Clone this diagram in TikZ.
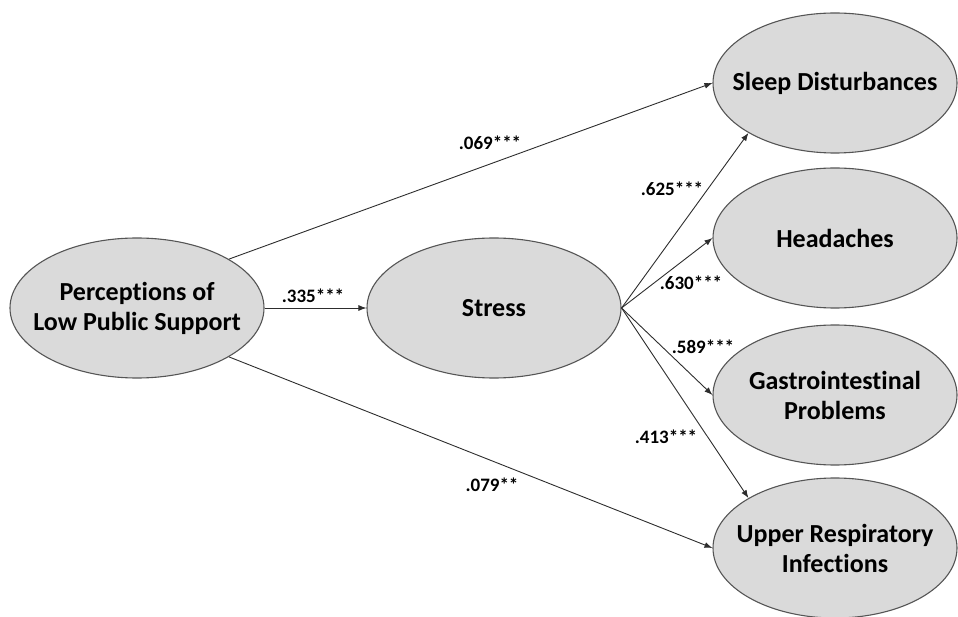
\documentclass[tikz,border=0pt]{standalone}
\usepackage{fontspec}
\setmainfont{Carlito}[Ligatures=NoCommon]
\usetikzlibrary{shapes.geometric,arrows.meta}
\definecolor{ellfill}{RGB}{218,218,218}
\definecolor{ellline}{RGB}{85,85,85}
\definecolor{arrline}{RGB}{45,45,45}
\tikzset{
  latent/.style={ellipse, draw=ellline, line width=1.1pt, fill=ellfill, inner sep=0pt,
    minimum width=254pt, minimum height=140pt},
  rlatent/.style={latent, minimum width=244pt},
  ltext/.style={align=center, inner sep=0pt, font=\fontsize{26}{30}\selectfont\bfseries},
  path/.style={draw=arrline, line width=0.9pt, -{Latex[length=8pt,width=6pt]}},
  coef/.style={font=\fontsize{19}{21}\selectfont\bfseries, inner sep=0pt}
}
\begin{document}
\begin{tikzpicture}[x=1pt,y=-1pt]
\useasboundingbox (0,0) rectangle (958,617);
\node[latent] (perc) at (137,308) {};
\node[latent] (stress) at (494,308) {};
\node[rlatent] (sleep) at (835,83) {};
\node[rlatent] (head) at (835,238) {};
\node[rlatent] (gastro) at (835,395) {};
\node[rlatent] (upper) at (835,548) {};
\node[ltext] (tperc) at (perc.center) {Perceptions of\\Low Public Support};
\node[ltext] (tstress) at (stress.center) {Stress};
\node[ltext] (tsleep) at (sleep.center) {Sleep Disturbances};
\node[ltext] (thead) at (head.center) {Headaches};
\node[ltext] (tgastro) at (gastro.center) {Gastrointestinal\\Problems};
\node[ltext] (tupper) at (upper.center) {Upper Respiratory\\Infections};

\draw[path] (perc.28) -- (sleep.west);
\draw[path] (perc.east) -- (stress.west);
\draw[path] (perc.332) -- (upper.west);
\draw[path] (stress.east) -- (sleep.210);
\draw[path] (stress.east) -- (head.west);
\draw[path] (stress.east) -- (gastro.west);
\draw[path] (stress.east) -- (upper.150);

\node[coef] (c1) at (490,143) {.069***};
\node[coef] (c2) at (313,296) {.335***};
\node[coef] (c3) at (492,485) {.079**};
\node[coef] (c4) at (672,189) {.625***};
\node[coef] (c5) at (691,283) {.630***};
\node[coef] (c6) at (703,347) {.589***};
\node[coef] (c7) at (666,437) {.413***};
\end{tikzpicture}
\end{document}
